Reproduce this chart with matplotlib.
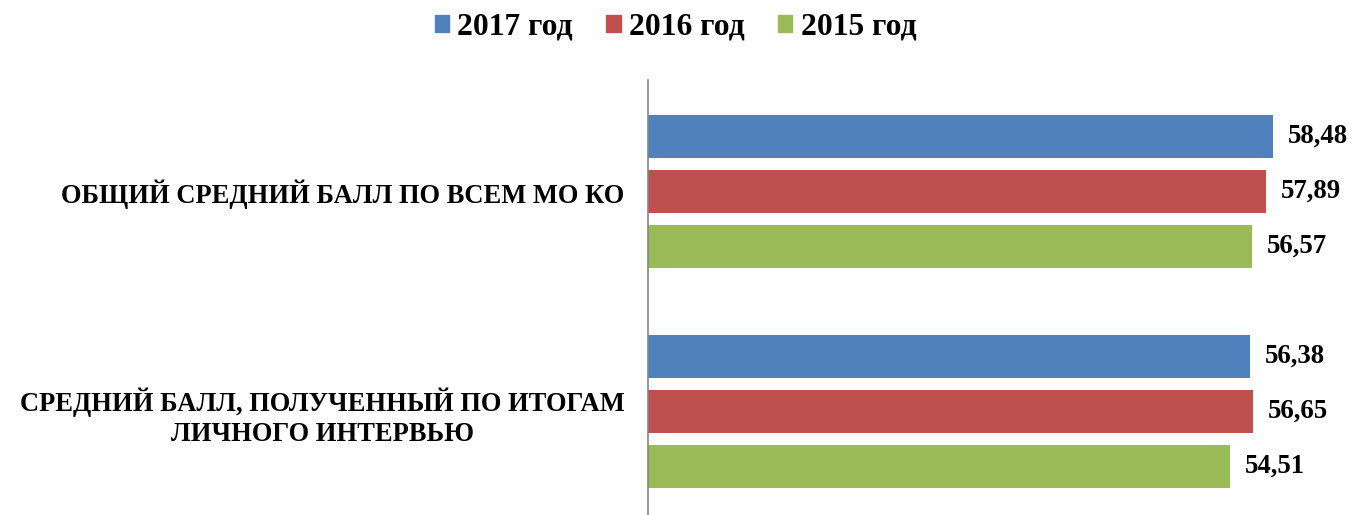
import numpy as np
import matplotlib.pyplot as plt
from matplotlib.patches import Patch

plt.rcParams["font.family"] = ["Liberation Serif", "DejaVu Serif"]
plt.rcParams["font.weight"] = "bold"

categories = [
    "ОБЩИЙ СРЕДНИЙ БАЛЛ ПО ВСЕМ МО КО",
    "СРЕДНИЙ БАЛЛ, ПОЛУЧЕННЫЙ ПО ИТОГАМ\nЛИЧНОГО ИНТЕРВЬЮ",
]
series_names = ["2017 год", "2016 год", "2015 год"]
values_2017 = [58.48, 56.38]
values_2016 = [57.89, 56.65]
values_2015 = [56.57, 54.51]
colors = ["#4F81BD", "#C0504D", "#9BBB59"]

series = [values_2017, values_2016, values_2015]

fig = plt.figure(figsize=(13.51, 5.15), dpi=100)
W, H = 1351, 515
# axes: from the vertical axis line to the right edge, y 80..515 px
ax = fig.add_axes([648 / W, 0, 1 - 648 / W, (515 - 80) / H])

y = np.arange(len(categories))
step = 0.25
bar_h = 0.195

for i, (vals, col) in enumerate(zip(series, colors)):
    pos = y + (i - 1) * step
    ax.barh(pos, vals, height=bar_h, color=col)
    for p, v in zip(pos, vals):
        ax.text(v + 1.4, p, f"{v:.2f}".replace(".", ","), va="center",
                ha="left", fontsize=19.3, fontweight="bold")

ax.set_xlim(0, 703 / 10.68)
ax.set_ylim(1.47, -0.505)

ax.set_yticks(y)
ax.set_yticklabels(categories, fontsize=19.1, fontweight="bold",
                   ha="right", multialignment="center", linespacing=1.3)
ax.tick_params(axis="y", length=0, pad=17)
ax.set_xticks([])

for s in ["top", "right", "bottom"]:
    ax.spines[s].set_visible(False)
ax.spines["left"].set_color("#868686")
ax.spines["left"].set_linewidth(1.2)

handles = [Patch(color=c) for c in colors]
fig.legend(handles, series_names, loc="center", bbox_to_anchor=(0.5, 1 - 27 / H),
           ncol=3, frameon=False, prop={"size": 22.7, "weight": "bold"},
           handlelength=0.45, handleheight=0.45, handletextpad=0.26,
           columnspacing=1.07)

fig.savefig("out.png", dpi=100)
